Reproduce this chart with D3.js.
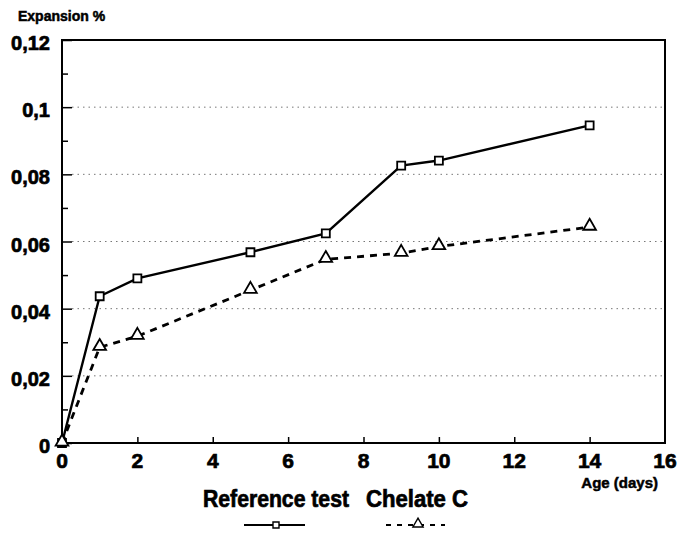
<!DOCTYPE html>
<html lang="en">
<head>
<meta charset="UTF-8">
<title>Expansion</title>
<style>
    body { margin: 0; background: #fff; }
    svg text { font-family: "Liberation Sans", Arial, sans-serif; font-weight: bold; fill: #000; stroke: #000; stroke-width: 0.7px; }
    .grid line { stroke: #777; stroke-width: 1; stroke-dasharray: 1.5,4; }
</style>
</head>
<body>
<script src="https://cdn.jsdelivr.net/npm/d3@7"></script>
<script>
    var width = 684, height = 533;
    var margin = { left: 62, right: 19, top: 40, bottom: 90 };

    // data
    var days = [0, 1, 2, 5, 7, 9, 10, 14];
    var referenceTest = [0, 0.0437, 0.049, 0.0568, 0.0624, 0.0826, 0.0841, 0.0946];
    var chelateC = [0, 0.0285, 0.0318, 0.0455, 0.0547, 0.0565, 0.0585, 0.0643];
    var seriesNames = ["Reference test", "Chelate C"];
    var xTicks = [0, 2, 4, 6, 8, 10, 12, 14, 16];
    var yTicks = [0, 0.02, 0.04, 0.06, 0.08, 0.1, 0.12];
    var yMinor = [0.01, 0.03, 0.05, 0.07, 0.09, 0.11];

    var svg = d3.select("body").append("svg")
        .attr("width", width)
        .attr("height", height);

    var x = d3.scaleLinear().domain([0, 16]).range([margin.left, width - margin.right]);
    var y = d3.scaleLinear().domain([0, 0.12]).range([height - margin.bottom, margin.top]);

    var fmt = function(d) { return d === 0 ? "0" : String(+d.toFixed(2)).replace(".", ","); };

    // dotted grid lines
    svg.append("g").attr("class", "grid")
        .selectAll("line")
        .data(yTicks.slice(1, -1))
        .enter().append("line")
        .attr("x1", x(0) + 10).attr("x2", x(16) - 2)
        .attr("y1", function(d) { return y(d); })
        .attr("y2", function(d) { return y(d); });

    // frame
    svg.append("rect")
        .attr("x", x(0)).attr("y", y(0.12))
        .attr("width", x(16) - x(0)).attr("height", y(0) - y(0.12))
        .attr("fill", "none").attr("stroke", "#000").attr("stroke-width", 2);

    // y axis, ticks inside
    var yAxis = svg.append("g")
        .attr("transform", "translate(" + x(0) + ",0)")
        .call(d3.axisRight(y).tickValues(yTicks).tickSize(10).tickFormat(""));
    yAxis.select(".domain").remove();
    yAxis.selectAll("line").attr("stroke-width", 1.5);

    var yAxisMinor = svg.append("g")
        .attr("transform", "translate(" + x(0) + ",0)")
        .call(d3.axisRight(y).tickValues(yMinor).tickSize(6).tickFormat(""));
    yAxisMinor.select(".domain").remove();
    yAxisMinor.selectAll("line").attr("stroke-width", 1.5);

    svg.append("g").selectAll("text")
        .data(yTicks)
        .enter().append("text")
        .attr("x", x(0) - 12)
        .attr("y", function(d) { return y(d) + 10; })
        .attr("text-anchor", "end")
        .attr("font-size", 20)
        .text(fmt);

    // x axis, ticks inside
    var xAxis = svg.append("g")
        .attr("transform", "translate(0," + y(0) + ")")
        .call(d3.axisTop(x).tickValues(xTicks.slice(1, -1)).tickSize(6).tickFormat(""));
    xAxis.select(".domain").remove();
    xAxis.selectAll("line").attr("stroke-width", 1.5);

    svg.append("g").selectAll("text")
        .data(xTicks)
        .enter().append("text")
        .attr("x", function(d) { return x(d); })
        .attr("y", y(0) + 25)
        .attr("text-anchor", "middle")
        .attr("font-size", 21)
        .text(function(d) { return d; });

    svg.append("text")
        .attr("x", 18).attr("y", 21)
        .attr("font-size", 14)
        .style("stroke-width", "0.5px")
        .text("Expansion %");

    svg.append("text")
        .attr("x", 658).attr("y", 488)
        .attr("text-anchor", "end")
        .attr("font-size", 15)
        .style("stroke-width", "0.5px")
        .text("Age (days)");

    // series
    var refData = days.map(function(d, i) { return [d, referenceTest[i]]; });
    var cheData = days.map(function(d, i) { return [d, chelateC[i]]; });

    var line = d3.line()
        .x(function(d) { return x(d[0]); })
        .y(function(d) { return y(d[1]); });

    svg.append("path")
        .datum(refData)
        .attr("d", line)
        .attr("fill", "none")
        .attr("stroke", "#000")
        .attr("stroke-width", 2.4);

    svg.append("path")
        .datum(cheData)
        .attr("d", line)
        .attr("fill", "none")
        .attr("stroke", "#000")
        .attr("stroke-width", 2.8)
        .attr("stroke-dasharray", "7,6");

    var square = d3.symbol().type(d3.symbolSquare).size(64);
    var triangle = d3.symbol().type(d3.symbolTriangle).size(70);

    svg.append("g").selectAll("path")
        .data(refData)
        .enter().append("path")
        .attr("d", square)
        .attr("transform", function(d) { return "translate(" + x(d[0]) + "," + y(d[1]) + ")"; })
        .attr("fill", "#fff").attr("stroke", "#000").attr("stroke-width", 1.8);

    svg.append("g").selectAll("path")
        .data(cheData)
        .enter().append("path")
        .attr("d", triangle)
        .attr("transform", function(d) { return "translate(" + x(d[0]) + "," + (y(d[1]) - 1) + ")"; })
        .attr("fill", "#fff").attr("stroke", "#000").attr("stroke-width", 1.8);

    // legend
    svg.append("text")
        .attr("x", 203).attr("y", 507)
        .attr("font-size", 23)
        .attr("textLength", 146)
        .attr("lengthAdjust", "spacingAndGlyphs")
        .text(seriesNames[0]);
    svg.append("text")
        .attr("x", 366).attr("y", 507)
        .attr("font-size", 23)
        .attr("textLength", 102)
        .attr("lengthAdjust", "spacingAndGlyphs")
        .text(seriesNames[1]);

    svg.append("line")
        .attr("x1", 244).attr("x2", 305).attr("y1", 525).attr("y2", 525)
        .attr("stroke", "#000").attr("stroke-width", 1.8);
    svg.append("path")
        .attr("d", d3.symbol().type(d3.symbolSquare).size(36))
        .attr("transform", "translate(276,525)")
        .attr("fill", "#fff").attr("stroke", "#000").attr("stroke-width", 1.4);

    svg.append("line")
        .attr("x1", 386).attr("x2", 445).attr("y1", 525).attr("y2", 525)
        .attr("stroke", "#000").attr("stroke-width", 2).attr("stroke-dasharray", "5,6");
    svg.append("path")
        .attr("d", d3.symbol().type(d3.symbolTriangle).size(45))
        .attr("transform", "translate(418,524)")
        .attr("fill", "#fff").attr("stroke", "#000").attr("stroke-width", 1.4);
</script>
</body>
</html>
